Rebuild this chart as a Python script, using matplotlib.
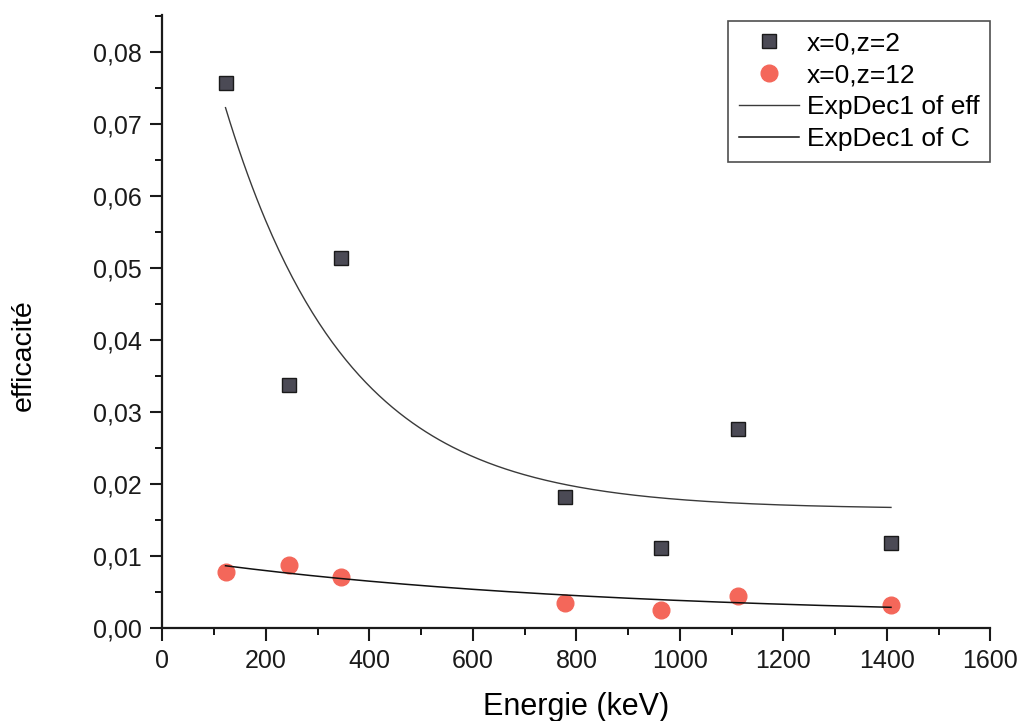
import numpy as np
import matplotlib
matplotlib.use("Agg")
import matplotlib.pyplot as plt
from matplotlib.ticker import MultipleLocator, FuncFormatter

plt.rcParams['font.family'] = ['Liberation Sans', 'DejaVu Sans']

# ─── Data ─────────────────────────────────────────────────────────────────────
energie = [121.8, 244.7, 344.3, 778.9, 964.1, 1112.1, 1408.0]
eff_z2  = [0.0756, 0.0337, 0.0514, 0.0182, 0.0110, 0.0276, 0.0118]
eff_z12 = [0.0077, 0.0087, 0.0071, 0.0034, 0.0024, 0.0044, 0.0032]

# ExpDec1 fits: y = y0 + A*exp(-x/t)
fit_eff = dict(y0=0.01647, A=0.0936, t=235.0)
fit_C   = dict(y0=0.00146, A=0.00835, t=780.0)

def expdec1(x, y0, A, t):
    return y0 + A * np.exp(-x / t)

# ─── Plot ─────────────────────────────────────────────────────────────────────
fig = plt.figure(figsize=(10.22, 7.21), dpi=100)
ax = fig.add_axes([0.159, 0.1294, 0.81, 0.85])

xf = np.linspace(min(energie), max(energie), 300)

ax.plot(energie, eff_z2, ls="none", marker="s", ms=10, mfc="#4b4a55",
        mec="#1a1a1a", mew=1.0, label="x=0,z=2")
ax.plot(energie, eff_z12, ls="none", marker="o", ms=12, mfc="#f4675a",
        mec="#f4675a", label="x=0,z=12")
ax.plot(xf, expdec1(xf, **fit_eff), color="#3a3a3a", lw=1.0, label="ExpDec1 of eff")
ax.plot(xf, expdec1(xf, **fit_C), color="#111111", lw=1.1, label="ExpDec1 of C")

ax.set_xlim(0, 1600)
ax.set_ylim(0, 0.0851)
ax.xaxis.set_major_locator(MultipleLocator(200))
ax.xaxis.set_minor_locator(MultipleLocator(100))
ax.yaxis.set_major_locator(MultipleLocator(0.01))
ax.yaxis.set_minor_locator(MultipleLocator(0.005))
ax.yaxis.set_major_formatter(FuncFormatter(lambda v, p: f"{v:.2f}".replace(".", ",")))

for s in ["top", "right"]:
    ax.spines[s].set_visible(False)
for s in ["left", "bottom"]:
    ax.spines[s].set_linewidth(1.6)
    ax.spines[s].set_color("#1a1a1a")

ax.tick_params(which="major", direction="out", length=9, width=1.5,
               labelsize=18, pad=6, colors="#1a1a1a")
ax.tick_params(which="minor", direction="out", length=5, width=1.3)

ax.set_xlabel("Energie (keV)", fontsize=22, labelpad=14)
ax.set_ylabel("efficacité", fontsize=20.5)
ax.yaxis.set_label_coords(-0.152, 0.444)

leg = ax.legend(loc="upper right", bbox_to_anchor=(0.969, 0.971),
                bbox_transform=fig.transFigure, fontsize=19, frameon=True,
                fancybox=False, borderpad=0.4, labelspacing=0.3,
                handlelength=2.3, handletextpad=0.3, borderaxespad=0)
leg.get_frame().set_edgecolor("#222222")
leg.get_frame().set_linewidth(1.2)

fig.savefig("out.png", dpi=100)
